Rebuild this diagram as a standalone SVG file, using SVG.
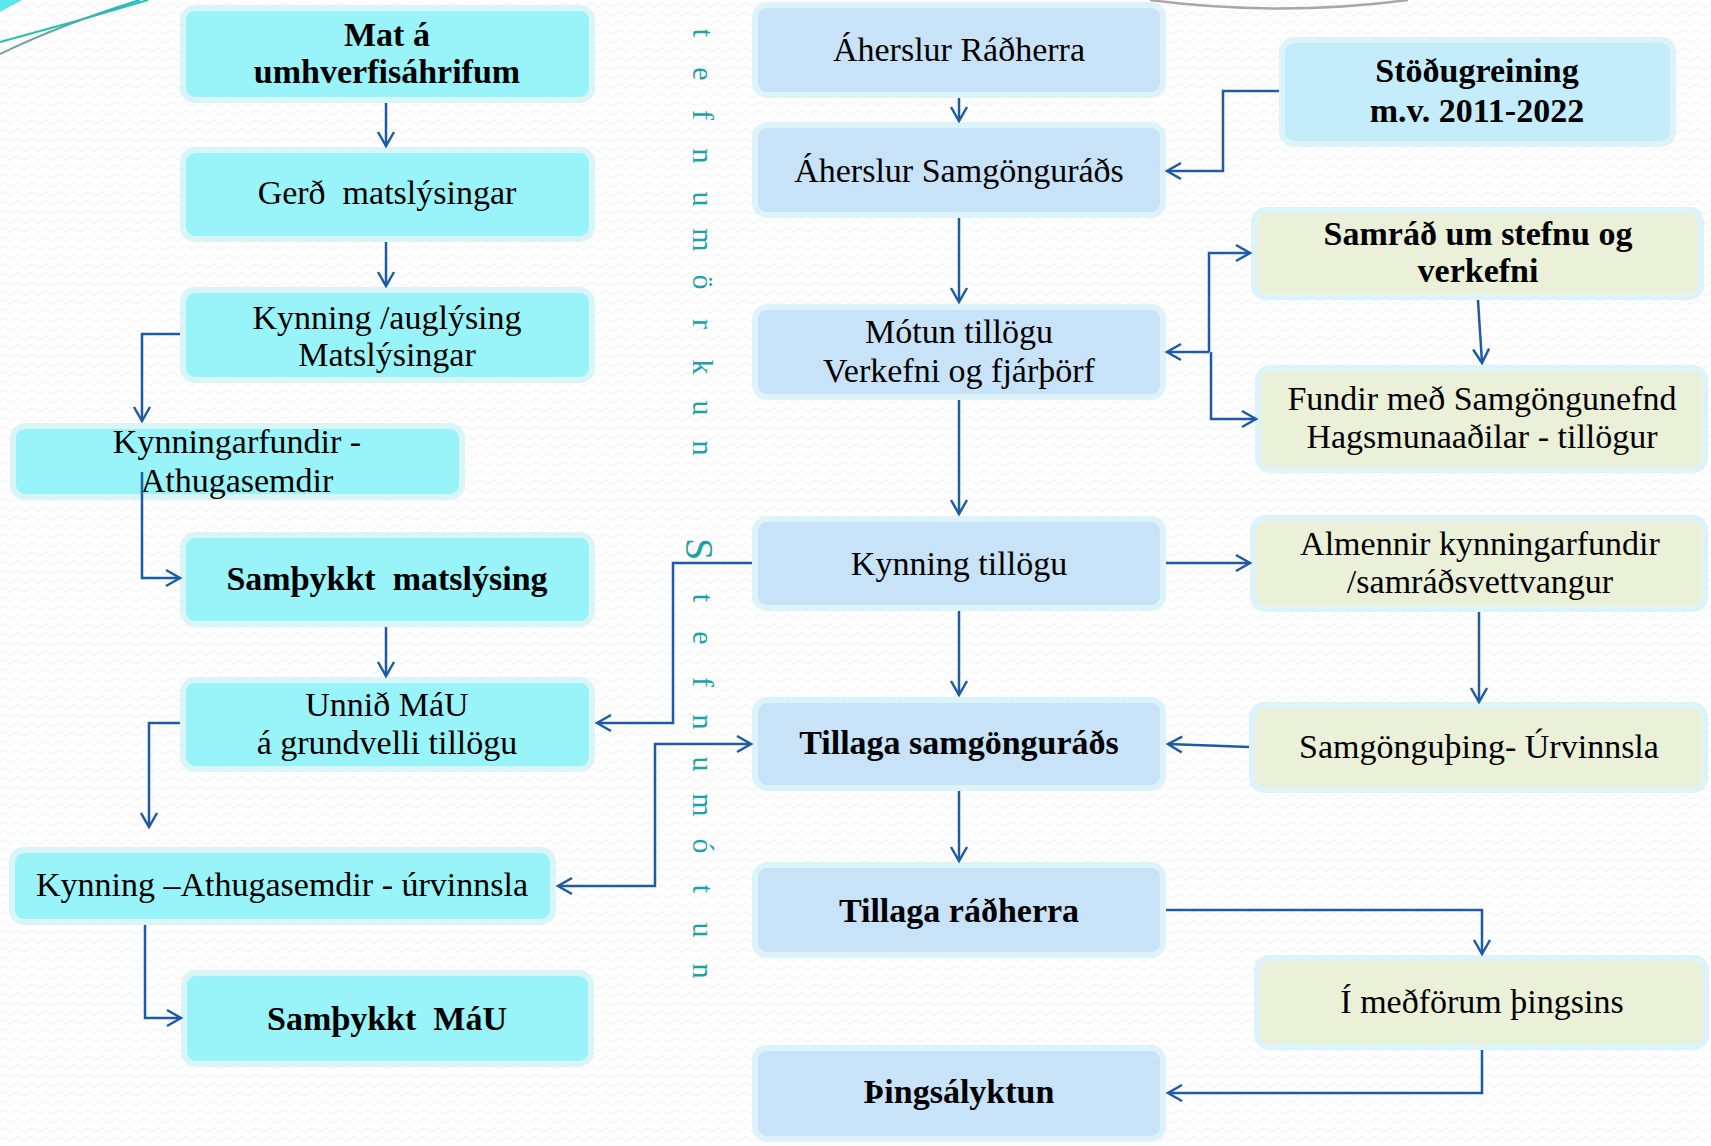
<svg xmlns="http://www.w3.org/2000/svg" width="1711" height="1146" viewBox="0 0 1711 1146">
<style>
.t{font-family:"Liberation Serif","DejaVu Serif",serif;font-size:34px;fill:#000;text-anchor:middle}
.tb{font-weight:bold}
.b1{fill:#98f4f9;stroke:#d9f5f8;stroke-width:6}
.b2{fill:#c8e2f8;stroke:#dcf3f9;stroke-width:6}
.b3{fill:#ebf0d9;stroke:#dcf3f9;stroke-width:6}
.b4{fill:#c4ecfb;stroke:#dcf3f9;stroke-width:6}
.c{fill:none;stroke:#1d5ba6;stroke-width:2.5;marker-end:url(#ah)}
.vt{font-family:"Liberation Serif","DejaVu Serif",serif;font-size:30px;fill:#1aa3a6;text-anchor:middle}
</style>
<defs>
<pattern id="bg" width="14" height="9" patternUnits="userSpaceOnUse">
<path d="M0,5 Q3.5,1 7,5 T14,5" fill="none" stroke="#efefef" stroke-width="1"/>
</pattern>
<marker id="ah" viewBox="-18 -11 22 22" refX="0" refY="0" markerWidth="22" markerHeight="22" markerUnits="userSpaceOnUse" orient="auto-start-reverse">
<path d="M-14,-8 L0,0 L-14,8" fill="none" stroke="#1d5ba6" stroke-width="2.5"/>
</marker>
<linearGradient id="g1" x1="0" y1="0" x2="1" y2="0">
<stop offset="0" stop-color="#8a9a9a"/><stop offset="1" stop-color="#1ab8c8"/>
</linearGradient>
</defs>
<rect width="1711" height="1146" fill="#ffffff"/>
<rect width="1711" height="1146" fill="url(#bg)"/>
<g id="decor">
<path d="M0,0 L22,0 L0,12 Z" fill="#5ee6f0"/>
<path d="M0,42 Q75,22 148,0" fill="none" stroke="#1ec4a8" stroke-width="2"/>
<path d="M0,54 Q62,24 140,0" fill="none" stroke="url(#g1)" stroke-width="2"/>
<path d="M1150,0 Q1280,17 1408,0" fill="none" stroke="#a8a8a8" stroke-width="2.5"/>
</g>
<g id="vertical-labels">
<text class="vt" transform="translate(693,0) rotate(90)" x="33 74 115 156 199 240 282 324 367 408 448" y="0">tefnumörkun</text>
<text class="vt" transform="translate(693,0) rotate(90)" x="549 598 638 682 722 764 805 846 889 930 971" y="7 0 0 0 0 0 0 0 0 0 0"><tspan font-size="40">S</tspan>tefnumótun</text>
</g>
<g id="n1"><rect class="b1" x="183" y="8" width="409" height="92" rx="12"/>
<text class="t tb" x="387" y="46">Mat á</text><text class="t tb" x="387" y="83">umhverfisáhrifum</text></g>
<g id="n2"><rect class="b1" x="183" y="150" width="409" height="89" rx="12"/>
<text class="t" x="387" y="204" xml:space="preserve">Gerð  matslýsingar</text></g>
<g id="n3"><rect class="b1" x="183" y="290" width="409" height="90" rx="12"/>
<text class="t" x="387" y="329">Kynning /auglýsing</text><text class="t" x="387" y="366">Matslýsingar</text></g>
<g id="n4"><rect class="b1" x="13" y="426" width="449" height="71" rx="12"/>
<text class="t" x="237" y="453">Kynningarfundir -</text><text class="t" x="237" y="492">Athugasemdir</text></g>
<g id="n5"><rect class="b1" x="183" y="535" width="409" height="89" rx="12"/>
<text class="t tb" x="387" y="590" xml:space="preserve">Samþykkt  matslýsing</text></g>
<g id="n6"><rect class="b1" x="183" y="680" width="409" height="89" rx="12"/>
<text class="t" x="387" y="716">Unnið MáU</text><text class="t" x="387" y="754">á grundvelli tillögu</text></g>
<g id="n7"><rect class="b1" x="12" y="850" width="541" height="72" rx="12"/>
<text class="t" x="282" y="896">Kynning –Athugasemdir - úrvinnsla</text></g>
<g id="n8"><rect class="b1" x="184" y="973" width="407" height="91" rx="12"/>
<text class="t tb" x="387" y="1030" xml:space="preserve">Samþykkt  MáU</text></g>
<g id="n9"><rect class="b2" x="755" y="5" width="408" height="90" rx="12"/>
<text class="t" x="959" y="61">Áherslur Ráðherra</text></g>
<g id="n10"><rect class="b2" x="755" y="125" width="408" height="90" rx="12"/>
<text class="t" x="959" y="182">Áherslur Samgönguráðs</text></g>
<g id="n11"><rect class="b2" x="755" y="307" width="408" height="90" rx="12"/>
<text class="t" x="959" y="343">Mótun tillögu</text><text class="t" x="959" y="382">Verkefni og fjárþörf</text></g>
<g id="n12"><rect class="b2" x="755" y="519" width="408" height="89" rx="12"/>
<text class="t" x="959" y="575">Kynning tillögu</text></g>
<g id="n13"><rect class="b2" x="755" y="700" width="408" height="88" rx="12"/>
<text class="t tb" x="959" y="754">Tillaga samgönguráðs</text></g>
<g id="n14"><rect class="b2" x="755" y="865" width="408" height="90" rx="12"/>
<text class="t tb" x="959" y="922">Tillaga ráðherra</text></g>
<g id="n15"><rect class="b2" x="755" y="1048" width="408" height="91" rx="12"/>
<text class="t tb" x="959" y="1103">Þingsályktun</text></g>
<g id="n16"><rect class="b4" x="1282" y="40" width="391" height="104" rx="12"/>
<text class="t tb" x="1477" y="82">Stöðugreining</text><text class="t tb" x="1477" y="122">m.v. 2011-2022</text></g>
<g id="n17"><rect class="b3" x="1254" y="210" width="447" height="87" rx="12"/>
<text class="t tb" x="1478" y="245">Samráð um stefnu og</text><text class="t tb" x="1478" y="282">verkefni</text></g>
<g id="n18"><rect class="b3" x="1258" y="368" width="447" height="102" rx="12"/>
<text class="t" x="1482" y="410">Fundir með Samgöngunefnd</text><text class="t" x="1482" y="448">Hagsmunaaðilar - tillögur</text></g>
<g id="n19"><rect class="b3" x="1253" y="518" width="452" height="91" rx="12"/>
<text class="t" x="1480" y="555">Almennir kynningarfundir</text><text class="t" x="1480" y="593">/samráðsvettvangur</text></g>
<g id="n20"><rect class="b3" x="1252" y="705" width="453" height="85" rx="12"/>
<text class="t" x="1479" y="758">Samgönguþing- Úrvinnsla</text></g>
<g id="n21"><rect class="b3" x="1257" y="958" width="449" height="89" rx="12"/>
<text class="t" x="1482" y="1013">Í meðförum þingsins</text></g>
<g id="connectors">
<path class="c" d="M386,103 V146"/>
<path class="c" d="M386,242 V286"/>
<path class="c" d="M180,334 H142 V421"/>
<path class="c" d="M142,472 V578 H180"/>
<path class="c" d="M386,627 V676"/>
<path class="c" d="M180,723 H149 V827"/>
<path class="c" d="M145,925 V1018 H181"/>
<path class="c" d="M752,563 H673 V723 H597"/>
<path class="c" d="M751,744 H655 V886 H558" marker-start="url(#ah)"/>
<path class="c" d="M959,98 V121"/>
<path class="c" d="M959,218 V302"/>
<path class="c" d="M959,400 V514"/>
<path class="c" d="M959,611 V695"/>
<path class="c" d="M959,791 V861"/>
<path class="c" d="M1279,91 H1223 V171 H1167"/>
<path class="c" d="M1209,352 V253 H1250"/>
<path class="c" d="M1209,352 H1167"/>
<path class="c" d="M1211,352 V419 H1256"/>
<path class="c" d="M1478,300 L1482,363"/>
<path class="c" d="M1166,563 H1250"/>
<path class="c" d="M1479,612 V702"/>
<path class="c" d="M1249,747 L1168,744"/>
<path class="c" d="M1166,910 H1482 V954"/>
<path class="c" d="M1482,1050 V1093 H1168"/>
</g>
</svg>
